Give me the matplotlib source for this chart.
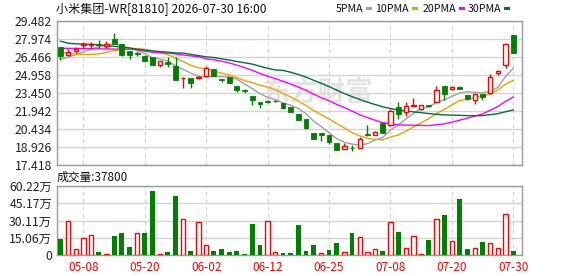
import numpy as np
import pandas as pd
import matplotlib
matplotlib.use("Agg")
import matplotlib.pyplot as plt
from matplotlib.patches import Rectangle

plt.rcParams['font.family'] = ['Noto Sans CJK SC', 'DejaVu Sans']

# ---- data ----
dates = ["05-05", "05-06", "05-07", "05-08", "05-11", "05-12", "05-13", "05-14", "05-15", "05-18",
         "05-19", "05-20", "05-21", "05-22", "05-26", "05-27", "05-28", "05-29", "06-01", "06-02",
         "06-03", "06-04", "06-05", "06-08", "06-09", "06-10", "06-11", "06-12", "06-15", "06-16",
         "06-17", "06-18", "06-22", "06-23", "06-24", "06-25", "06-26", "06-29", "06-30", "07-02",
         "07-03", "07-06", "07-07", "07-08", "07-09", "07-10", "07-13", "07-14", "07-15", "07-16",
         "07-17", "07-20", "07-21", "07-22", "07-23", "07-24", "07-27", "07-28", "07-29", "07-30"]

opens = [27.29, 26.65, 27.01, 27.45, 27.45, 27.54, 27.37, 27.95, 27.59, 26.93,
         26.76, 26.56, 26.45, 25.79, 26.01, 25.68, 24.67, 24.70, 24.67, 24.90,
         25.48, 24.62, 24.76, 24.06, 23.67, 23.23, 22.70, 22.76, 22.79, 22.59,
         22.26, 21.70, 21.23, 20.12, 20.12, 19.89, 19.28, 18.78, 18.87, 18.87,
         20.01, 19.95, 20.90, 20.73, 22.28, 21.90, 22.37, 22.12, 22.45, 22.73,
         24.06, 23.79, 23.98, 23.31, 22.84, 23.40, 23.45, 25.12, 25.79, 28.31]
highs = [27.34, 27.11, 27.34, 27.70, 27.73, 27.90, 27.84, 28.51, 27.59, 26.93,
         26.93, 26.60, 26.48, 26.17, 26.45, 26.45, 24.79, 24.70, 24.84, 25.68,
         25.50, 24.62, 24.76, 24.06, 23.79, 23.23, 22.73, 22.84, 22.84, 22.60,
         22.26, 21.70, 21.23, 20.12, 20.12, 19.95, 19.30, 19.23, 19.06, 19.78,
         20.81, 20.26, 20.90, 22.12, 22.67, 22.73, 23.01, 22.45, 22.47, 24.01,
         24.07, 24.06, 24.00, 23.31, 23.40, 23.40, 25.06, 25.40, 27.68, 28.32]
lows = [26.18, 26.64, 26.84, 27.12, 27.12, 27.20, 27.20, 27.59, 26.56, 26.34,
        26.56, 26.06, 25.76, 25.59, 25.59, 24.56, 23.87, 23.87, 24.62, 24.84,
        24.84, 24.37, 24.25, 23.51, 23.45, 22.42, 22.20, 22.65, 22.67, 22.12,
        21.87, 21.15, 20.40, 19.60, 19.42, 19.14, 18.65, 18.78, 18.62, 18.84,
        19.84, 19.95, 20.06, 20.70, 21.28, 21.56, 22.37, 22.01, 22.28, 22.70,
        22.90, 23.67, 23.76, 22.90, 22.56, 22.90, 23.40, 24.92, 25.51, 26.78]
closes = [26.51, 26.86, 27.12, 27.59, 27.59, 27.48, 27.59, 27.59, 26.65, 26.65,
          26.70, 26.15, 25.79, 26.15, 25.87, 24.56, 24.73, 24.29, 24.79, 25.54,
          24.84, 24.56, 24.29, 23.73, 23.59, 22.87, 22.51, 22.73, 22.76, 22.23,
          21.90, 21.17, 20.51, 19.62, 19.95, 19.37, 18.67, 19.01, 18.84, 19.56,
          19.95, 20.17, 20.09, 21.95, 21.73, 22.40, 22.42, 22.43, 22.40, 23.67,
          23.40, 23.95, 23.79, 22.98, 23.40, 23.12, 24.79, 25.26, 27.56, 26.79]

# volume in 万 shares, and whether the bar is drawn red (up) or green
volumes = [13.96, 29.67, 4.95, 14.84, 17.16, 2.62, 0.87, 16.58, 19.2, 6.98,
           19.2, 19.2, 55.86, 0.87, 2.62, 51.5, 31.1, 3.49, 28.8, 8.44,
           3.49, 4.95, 2.62, 3.49, 0.87, 27.06, 8.73, 29.4, 2.33, 1.75,
           1.75, 26.2, 3.49, 8.73, 1.75, 4.36, 10.47, 2.62, 19.2, 15.4,
           2.62, 4.95, 3.49, 28.8, 20.07, 5.82, 16.29, 0.87, 13.09, 31.1,
           34.9, 12.2, 48.9, 5.24, 5.82, 11.35, 10.2, 5.82, 35.5, 3.78]
vol_up = [0, 1, 1, 1, 1, 0, 1, 0, 0, 0, 1, 0, 0, 1, 0, 0, 1, 0, 1, 1,
          0, 0, 0, 0, 0, 0, 0, 1, 1, 0, 0, 0, 0, 0, 1, 0, 0, 1, 0, 1,
          1, 1, 0, 1, 0, 1, 1, 1, 0, 1, 0, 1, 0, 0, 1, 0, 1, 1, 1, 0]

# moving-average values before enough closes are on screen
ma5_head = [26.29, 26.45, 26.66, 26.88]
ma10_head = [26.85, 26.77, 26.70, 26.68, 26.68, 26.72, 26.85, 27.00, 27.10]
ma20_head = [27.20, 27.19, 27.18, 27.17, 27.16, 27.15, 27.14, 27.13, 27.13, 27.12,
             27.08, 26.96, 26.86, 26.82, 26.79, 26.72, 26.63, 26.56, 26.49]
ma30_head = [27.79, 27.62, 27.57, 27.55, 27.53, 27.48, 27.42, 27.36, 27.29, 27.23,
             27.11, 27.04, 26.98, 26.92, 26.87, 26.81, 26.79, 26.69, 26.58, 26.48,
             26.42, 26.31, 26.21, 26.09, 25.98, 25.87, 25.69, 25.52, 25.38]

tick_dates = ["05-08", "05-20", "06-02", "06-12", "06-25", "07-08", "07-20", "07-30"]
price_ticks = [17.418, 18.926, 20.434, 21.942, 23.450, 24.958, 26.466, 27.974, 29.482]
vol_ticks = [0, 15.06, 30.11, 45.17, 60.22]
vol_tick_labels = ["0", "15.06万", "30.11万", "45.17万", "60.22万"]

title = "小米集团-WR[81810] 2026-07-30 16:00"
vol_title = "成交量:37800"
ma_names = ["5PMA", "10PMA", "20PMA", "30PMA"]
ma_colors = ["#a0a0a0", "#f0a000", "#ff00ff", "#00703c"]

RED = "#ff0000"
GREEN = "#008000"
GRID = "#d4d4d4"
FRAME = "#9a9a9a"

W, H = 578, 276


def fx(px):
    return px / W


def fy(py):
    return 1 - py / H


def moving_avg(head, n):
    s = pd.Series(closes).rolling(n).mean().to_numpy()
    s[:len(head)] = head
    return s


fig = plt.figure(figsize=(W / 100, H / 100), dpi=100)
ax = fig.add_axes([fx(57), fy(165), fx(522) - fx(57), fy(21) - fy(165)])
axv = fig.add_axes([fx(57), fy(255), fx(522) - fx(57), fy(186) - fy(255)])

x = np.arange(len(dates))
o = np.array(opens)
c = np.array(closes)
hi = np.array(highs)
lo = np.array(lows)
up = c > o
tick_idx = [dates.index(d) for d in tick_dates]

# watermark
ax.text(0.56, 0.5, "东方财富", transform=ax.transAxes, fontsize=20, fontweight="bold",
        style="italic", color="#e3e3e3", ha="center", va="center", zorder=0)

# candles
cols = np.where(up, RED, GREEN)
ax.vlines(x, lo, hi, colors=cols, lw=1, zorder=3)
body_lo = np.minimum(o, c)
body_h = np.maximum(np.abs(c - o), 0.025)
ax.bar(x[up], body_h[up], bottom=body_lo[up], width=0.56, facecolor="white",
       edgecolor=RED, lw=1, zorder=4)
ax.bar(x[~up], body_h[~up], bottom=body_lo[~up], width=0.64, facecolor=GREEN,
       edgecolor=GREEN, lw=0.6, zorder=4)

# moving averages
for head, n, col in zip([ma5_head, ma10_head, ma20_head, ma30_head], [5, 10, 20, 30], ma_colors):
    ax.plot(x, moving_avg(head, n), color=col, lw=1.0, zorder=2)

ax.set_xlim(-0.45, 60.15)
ax.set_ylim(price_ticks[0], price_ticks[-1])
ax.set_yticks(price_ticks)
ax.set_yticklabels([f"{t:.3f}" for t in price_ticks])
ax.set_xticks(tick_idx)
ax.tick_params(axis="x", labelbottom=False, length=0)
ax.tick_params(axis="y", length=0, pad=3.5, labelsize=8.8, labelcolor="#222222")
ax.grid(axis="y", color=GRID, lw=1, ls="-", zorder=0)
ax.grid(axis="x", color=GRID, lw=0.9, ls=(0, (3, 3)), zorder=0)

# volume
v = np.array(volumes)
vu = np.array(vol_up, dtype=bool)
axv.bar(x[vu], v[vu], width=0.56, facecolor="white", edgecolor=RED, lw=1, zorder=3)
axv.bar(x[~vu], v[~vu], width=0.64, color=GREEN, lw=0, zorder=3)
axv.set_xlim(-0.45, 60.15)
axv.set_ylim(0, vol_ticks[-1])
axv.set_yticks(vol_ticks)
axv.set_yticklabels(vol_tick_labels)
axv.set_xticks(tick_idx)
axv.set_xticklabels(tick_dates)
axv.tick_params(axis="x", length=0, pad=4, labelsize=8.5, labelcolor=RED)
axv.tick_params(axis="y", length=0, pad=3.5, labelsize=8.8, labelcolor="#222222")
axv.grid(axis="y", color=GRID, lw=1, ls="-", zorder=0)
axv.grid(axis="x", color=GRID, lw=0.9, ls=(0, (3, 3)), zorder=0)

for a in (ax, axv):
    for sp in a.spines.values():
        sp.set_color(FRAME)
        sp.set_linewidth(1)

# texts
fig.text(fx(56), fy(9), title, fontsize=8.7, ha="left", va="center", color="#111111")
fig.text(fx(57), fy(177), vol_title, fontsize=8.5, ha="left", va="center", color="#111111")

label_right = [363, 409, 456, 501]
for name, col, xr in zip(ma_names, ma_colors, label_right):
    fig.text(fx(xr), fy(8.5), name, fontsize=7.6, ha="right", va="center", color="#111111")
    fig.add_artist(Rectangle((fx(xr + 3), fy(10)), fx(6), 3 / H,
                             transform=fig.transFigure, facecolor=col, edgecolor="none"))

fig.savefig("out.png", dpi=100)
